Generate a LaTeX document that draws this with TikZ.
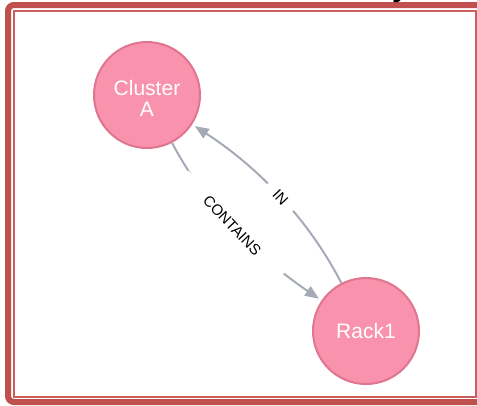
\documentclass[tikz,border=0pt]{standalone}
\usepackage{fontspec}
\setmainfont{Liberation Sans}
\usetikzlibrary{arrows.meta}

\definecolor{framered}{HTML}{C0504D}
\definecolor{framethin}{HTML}{CC5E5B}
\definecolor{entityfill}{HTML}{F992AC}
\definecolor{entityline}{HTML}{E0758F}
\definecolor{relgray}{HTML}{A5ABB6}

\tikzset{
  entity/.style={circle, draw=entityline, fill=entityfill, line width=2pt,
    minimum size=106pt, inner sep=0pt},
  entitytext/.style={text=white, align=center, inner sep=0pt,
    font=\fontsize{21}{21}\selectfont},
  rel/.style={draw=relgray, line width=2pt, shorten >=3pt,
    -{Triangle[length=14pt,width=11pt]}},
  rellabel/.style={fill=white, text=black, inner ysep=1pt,
    font=\fontsize{15}{15}\selectfont}
}

\begin{document}
\begin{tikzpicture}[x=1pt,y=-1pt]
\useasboundingbox (0,0) rectangle (477,405);

% page border: heavy outer band and thin inner rule
\begin{scope}
  \clip (0,0) rectangle (477,405);
  \draw[framered, line width=6pt, rounded corners=6pt] (8,5) rectangle (490,402);
  \draw[framethin, line width=1.6pt] (14,11) rectangle (476,397);
  \node[anchor=base west, inner sep=0pt, font=\bfseries\fontsize{30}{30}\selectfont]
    (titletail) at (392,-4) {y};
\end{scope}

% entities
\node[entity] (ca) at (147,95) {};
\node[entitytext] (catext) at (147,98.5) {Cluster\\A};
\node[entity] (rk) at (366,331) {};
\node[entitytext] (rktext) at (366,331) {Rack1};

% relationships
\draw[rel] (ca) .. controls (202.7,201.3) and (251.7,252.7) .. (rk)
  node[pos=0.5, sloped, rellabel, inner xsep=32pt] (lcontains) {CONTAINS};
\draw[rel] (rk) .. controls (309.6,221.3) and (260.3,168.7) .. (ca)
  node[pos=0.5, sloped, rellabel, inner xsep=11pt] (lin) {IN};
\end{tikzpicture}
\end{document}
